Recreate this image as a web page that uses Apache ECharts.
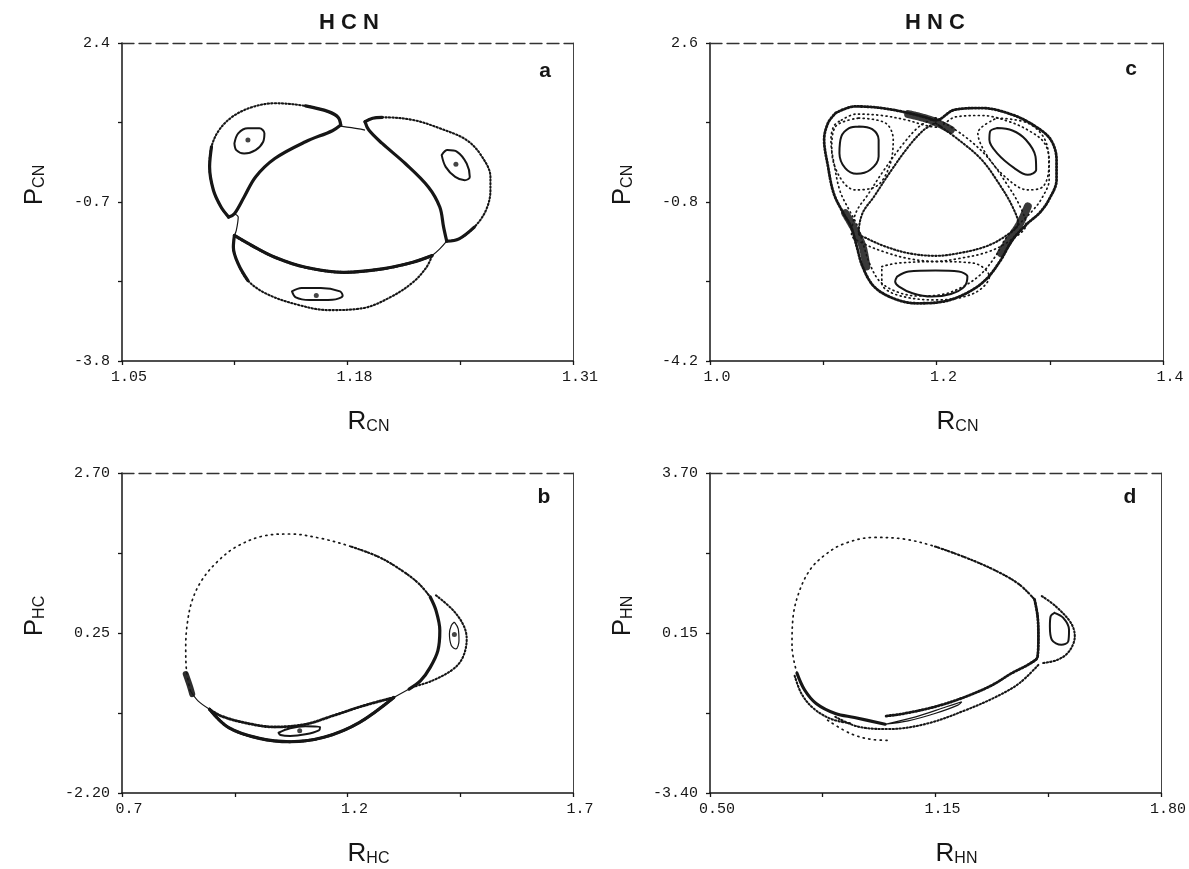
<!DOCTYPE html>
<html>
<head>
<meta charset="utf-8">
<script src="https://cdn.jsdelivr.net/npm/echarts@6/dist/echarts.min.js"></script>
<style>
  html, body { margin: 0; padding: 0; background: #fff; }
  #chart { width: 1189px; height: 869px; }
</style>
</head>
<body>
<div id="chart"></div>
<script>
// ---------- axis ticks and labels ----------
const aXLabels = ['1.05', '1.18', '1.31'];
const aXTicks  = [1.05, 1.115, 1.18, 1.245, 1.31];
const aYLabels = ['2.4', '-0.7', '-3.8'];
const aYTicks  = [2.4, 0.85, -0.7, -2.25, -3.8];

const bXLabels = ['0.7', '1.2', '1.7'];
const bXTicks  = [0.7, 0.95, 1.2, 1.45, 1.7];
const bYLabels = ['2.70', '0.25', '-2.20'];
const bYTicks  = [2.70, 1.475, 0.25, -0.975, -2.20];

const cXLabels = ['1.0', '1.2', '1.4'];
const cXTicks  = [1.0, 1.1, 1.2, 1.3, 1.4];
const cYLabels = ['2.6', '-0.8', '-4.2'];
const cYTicks  = [2.6, 0.9, -0.8, -2.5, -4.2];

const dXLabels = ['0.50', '1.15', '1.80'];
const dXTicks  = [0.50, 0.825, 1.15, 1.475, 1.80];
const dYLabels = ['3.70', '0.15', '-3.40'];
const dYTicks  = [3.70, 1.925, 0.15, -1.625, -3.40];

// ---------- (a) HCN: R_CN vs P_CN ----------
const aLeftLobeOuter = [[1.1115,-0.994],[1.1071,-0.798],[1.1027,-0.472],[1.1005,-0.015],[1.1016,0.377],[1.1060,0.703],[1.1137,0.964],[1.1248,1.147],[1.1381,1.225],[1.1558,1.173],[1.1690,1.062],[1.1746,0.951],[1.1761,0.801]];
const aLeftLobeInner = [[1.1761,0.801],[1.1713,0.690],[1.1558,0.475],[1.1381,0.148],[1.1270,-0.211],[1.1204,-0.602],[1.1148,-0.928],[1.1115,-0.994]];
const aLeftIsland = [[1.1148,0.442],[1.1170,0.638],[1.1226,0.736],[1.1292,0.736],[1.1321,0.638],[1.1314,0.475],[1.1270,0.312],[1.1204,0.246],[1.1159,0.312],[1.1148,0.442]];
const aRightLobeOuter = [[1.1901,0.866],[1.1945,0.932],[1.2000,0.951],[1.2177,0.899],[1.2332,0.736],[1.2487,0.507],[1.2576,0.181],[1.2624,-0.211],[1.2624,-0.472],[1.2598,-0.863],[1.2531,-1.189],[1.2443,-1.418],[1.2372,-1.464]];
const aRightLobeInner = [[1.2372,-1.464],[1.2354,-1.189],[1.2332,-0.798],[1.2266,-0.406],[1.2133,0.050],[1.2000,0.442],[1.1923,0.703],[1.1901,0.866]];
const aRightIsland = [[1.2343,0.214],[1.2376,0.312],[1.2432,0.279],[1.2487,0.050],[1.2505,-0.211],[1.2476,-0.276],[1.2421,-0.211],[1.2366,-0.015],[1.2343,0.214]];
const aBottomLobeOuter = [[1.1148,-1.353],[1.1142,-1.581],[1.1170,-1.907],[1.1226,-2.234],[1.1336,-2.495],[1.1513,-2.703],[1.1690,-2.808],[1.1890,-2.769],[1.2045,-2.560],[1.2177,-2.266],[1.2255,-1.973],[1.2288,-1.744]];
const aBottomLobeInner = [[1.2288,-1.744],[1.2177,-1.875],[1.2000,-2.005],[1.1779,-2.071],[1.1558,-1.973],[1.1381,-1.777],[1.1248,-1.548],[1.1148,-1.353]];
const aBottomIsland = [[1.1480,-2.443],[1.1535,-2.377],[1.1646,-2.377],[1.1757,-2.443],[1.1772,-2.527],[1.1713,-2.606],[1.1580,-2.612],[1.1502,-2.560],[1.1480,-2.443]];
const aCentralTop = [[1.1761,0.781],[1.1823,0.749],[1.1901,0.703]];
const aCentralLeft = [[1.1148,-0.928],[1.1170,-0.994],[1.1159,-1.255],[1.1148,-1.353]];
const aCentralRight = [[1.2372,-1.464],[1.2332,-1.614],[1.2288,-1.744]];
const aCentres = [[1.1226,0.507],[1.2425,0.037],[1.1620,-2.521]];

// ---------- (b) HCN: R_HC vs P_HC ----------
const bMainUpper = [[0.8515,-0.635],[0.8430,-0.327],[0.8413,0.032],[0.8447,0.391],[0.8557,0.750],[0.8770,1.058],[0.9111,1.340],[0.9536,1.571],[1.0132,1.735],[1.0728,1.766],[1.1409,1.699],[1.2089,1.571],[1.2685,1.417],[1.3196,1.212],[1.3579,1.007],[1.3834,0.802]];
const bMainRight = [[1.3834,0.802],[1.3962,0.596],[1.4047,0.288],[1.4004,-0.019],[1.3834,-0.276],[1.3621,-0.481],[1.3366,-0.609]];
const bLink = [[1.3366,-0.609],[1.3026,-0.738]];
const bLowerUpper = [[1.3026,-0.738],[1.2345,-0.866],[1.1664,-1.020],[1.1068,-1.148],[1.0387,-1.189],[0.9706,-1.122],[0.9196,-1.020],[0.8940,-0.917]];
const bLowerLower = [[0.8940,-0.917],[0.9366,-1.199],[1.0047,-1.364],[1.0728,-1.415],[1.1494,-1.343],[1.2260,-1.122],[1.3026,-0.738]];
const bLeftLink = [[0.8515,-0.635],[0.8685,-0.789],[0.8940,-0.917]];
const bLeftBlob = [[0.8413,-0.379],[0.8515,-0.584],[0.8557,-0.686]];
const bBottomIsland = [[1.0472,-1.277],[1.0728,-1.210],[1.1068,-1.179],[1.1391,-1.189],[1.1366,-1.241],[1.1068,-1.302],[1.0728,-1.328],[1.0515,-1.312],[1.0472,-1.277]];
const bRightIsland = [[1.4370,0.417],[1.4455,0.314],[1.4472,0.135],[1.4404,0.006],[1.4302,0.058],[1.4260,0.237],[1.4302,0.365],[1.4370,0.417]];
const bRightLobeOuter = [[1.3962,0.827],[1.4345,0.596],[1.4574,0.365],[1.4643,0.160],[1.4557,-0.122],[1.4345,-0.302],[1.3877,-0.481],[1.3409,-0.584]];
const bCentres = [[1.4370,0.227],[1.0940,-1.245]];

// ---------- (c) HNC: R_CN vs P_CN ----------
const cOuterEdge = [[1.1109,1.102],[1.1279,1.244],[1.1517,1.209],[1.1754,1.102],[1.1924,0.995],[1.1992,0.945],[1.2161,1.173],[1.2399,1.209],[1.2670,1.066],[1.2874,0.816],[1.3009,0.531],[1.3060,0.103],[1.3060,-0.326],[1.2992,-0.754],[1.2908,-1.039],[1.2806,-1.254],[1.2670,-1.610],[1.2568,-2.038],[1.2433,-2.466],[1.2263,-2.752],[1.2059,-2.930],[1.1822,-2.966],[1.1618,-2.859],[1.1449,-2.609],[1.1347,-2.181],[1.1296,-1.753],[1.1245,-1.325],[1.1177,-1.039],[1.1092,-0.611],[1.1042,-0.040],[1.1008,0.531],[1.1042,0.888],[1.1109,1.102]];
const cOuterEdge2 = [[1.1160,0.95],[1.1290,1.08],[1.1517,1.05],[1.1740,0.95],[1.1900,0.84],[1.2000,0.80],[1.2170,1.02],[1.2399,1.05],[1.2640,0.92],[1.2820,0.72],[1.2950,0.47],[1.2995,0.10],[1.2995,-0.32],[1.2930,-0.72],[1.2850,-0.98],[1.2760,-1.20],[1.2620,-1.55],[1.2515,-1.98],[1.2385,-2.36],[1.2225,-2.62],[1.2045,-2.78],[1.1830,-2.81],[1.1650,-2.72],[1.1500,-2.50],[1.1410,-2.12],[1.1355,-1.72],[1.1300,-1.30],[1.1235,-1.00],[1.1150,-0.58],[1.1100,-0.04],[1.1068,0.52],[1.1095,0.83],[1.1160,0.95]];
const cInnerEdge = [[1.1992,0.888],[1.2195,0.531],[1.2399,0.103],[1.2568,-0.468],[1.2670,-0.896],[1.2721,-1.254],[1.2602,-1.539],[1.2433,-1.753],[1.2195,-1.895],[1.1992,-1.952],[1.1754,-1.895],[1.1550,-1.753],[1.1381,-1.574],[1.1313,-1.467],[1.1347,-1.039],[1.1449,-0.682],[1.1584,-0.183],[1.1754,0.388],[1.1890,0.745],[1.1992,0.888]];
const cInnerEdge2 = [[1.1992,1.0],[1.2240,0.62],[1.2450,0.16],[1.2625,-0.43],[1.2735,-0.88],[1.2790,-1.28],[1.2640,-1.64],[1.2450,-1.87],[1.2195,-2.01],[1.1992,-2.07],[1.1754,-2.01],[1.1530,-1.86],[1.1340,-1.67],[1.1250,-1.50],[1.1290,-1.02],[1.1395,-0.64],[1.1530,-0.14],[1.1705,0.44],[1.1850,0.82],[1.1992,1.0]];
const cLeftRing = [[1.1313,0.995],[1.1550,0.888],[1.1618,0.531],[1.1584,-0.040],[1.1466,-0.468],[1.1279,-0.540],[1.1143,-0.254],[1.1075,0.317],[1.1109,0.816],[1.1313,0.995]];
const cRightRing = [[1.2534,0.995],[1.2806,0.888],[1.2958,0.531],[1.2992,-0.040],[1.2941,-0.468],[1.2806,-0.540],[1.2602,-0.254],[1.2433,0.245],[1.2365,0.674],[1.2534,0.995]];
const cBottomRing = [[1.1517,-2.181],[1.1652,-2.109],[1.1992,-2.074],[1.2331,-2.109],[1.2467,-2.395],[1.2331,-2.752],[1.1992,-2.894],[1.1652,-2.787],[1.1517,-2.537],[1.1517,-2.181]];
const cLeftIsland = [[1.1313,0.816],[1.1432,0.759],[1.1489,0.531],[1.1489,0.174],[1.1415,-0.111],[1.1296,-0.197],[1.1194,-0.076],[1.1143,0.245],[1.1160,0.602],[1.1228,0.780],[1.1313,0.816]];
const cRightIsland = [[1.2534,0.780],[1.2670,0.730],[1.2789,0.531],[1.2874,0.174],[1.2880,-0.111],[1.2806,-0.218],[1.2687,-0.076],[1.2534,0.245],[1.2467,0.531],[1.2473,0.709],[1.2534,0.780]];
const cBottomIsland = [[1.1652,-2.395],[1.1754,-2.288],[1.1992,-2.266],[1.2195,-2.288],[1.2273,-2.395],[1.2246,-2.609],[1.2127,-2.766],[1.1958,-2.823],[1.1788,-2.752],[1.1669,-2.609],[1.1635,-2.502],[1.1652,-2.395]];
const cClusterTop = [[1.1750,1.080],[1.1900,0.990],[1.2000,0.900],[1.2127,0.745]];
const cClusterLeft = [[1.1194,-1.039],[1.1279,-1.396],[1.1347,-1.753],[1.1381,-2.181]];
const cClusterRight = [[1.2806,-0.896],[1.2738,-1.254],[1.2653,-1.574],[1.2568,-1.895]];

// ---------- (d) HNC: R_HN vs P_HN ----------
const dMainUpper = [[0.7507,-0.743],[0.7364,-0.148],[0.7397,0.522],[0.7596,1.118],[0.7894,1.564],[0.8280,1.862],[0.8833,2.122],[0.9716,2.271],[1.0600,2.234],[1.1483,2.070],[1.2367,1.825],[1.3251,1.527],[1.3913,1.229],[1.4355,0.894]];
const dMainRight = [[1.4355,0.894],[1.4443,0.522],[1.4466,0.076],[1.4443,-0.371],[1.4245,-0.520],[1.3693,-0.743],[1.3140,-1.004],[1.2367,-1.264],[1.1483,-1.487],[1.0600,-1.636],[1.0048,-1.696]];
const dLowerLeft = [[0.7507,-0.743],[0.7728,-1.115],[0.8059,-1.413],[0.8612,-1.636],[0.9164,-1.725],[1.0048,-1.874]];
const dLowerLeft2 = [[0.7440,-0.800],[0.7640,-1.200],[0.7980,-1.520],[0.8500,-1.760],[0.9100,-1.860]];
const dIsland = [[1.0048,-1.874],[1.0931,-1.711],[1.1815,-1.487],[1.2256,-1.376],[1.2146,-1.450],[1.1483,-1.636],[1.0710,-1.800],[1.0048,-1.874]];
const dLowerBand = [[0.8612,-1.711],[0.9274,-1.929],[1.0158,-1.981],[1.1263,-1.859],[1.2367,-1.562],[1.3251,-1.264],[1.3913,-0.966],[1.4466,-0.557]];
const dOuterSparse = [[0.8391,-1.785],[0.9054,-2.083],[0.9716,-2.217],[1.0158,-2.231]];
const dRightIsland = [[1.4930,0.597],[1.5183,0.485],[1.5349,0.224],[1.5327,-0.036],[1.5128,-0.110],[1.4852,0.001],[1.4797,0.299],[1.4819,0.522],[1.4930,0.597]];
const dRightLobeOuter = [[1.4564,0.969],[1.4962,0.745],[1.5404,0.373],[1.5515,0.076],[1.5349,-0.259],[1.5018,-0.445],[1.4564,-0.520]];

// ---------- drawing styles ----------
const INK = '#161616';
const MONO = '"Liberation Mono", "DejaVu Sans Mono", monospace';
const SANS = '"Liberation Sans", Arial, sans-serif';
const STYLES = {
  thick:   { color: INK, width: 3.2, cap: 'round', join: 'round' },
  medium:  { color: INK, width: 2, cap: 'round', join: 'round' },
  thin:    { color: INK, width: 1.2 },
  dots:    { color: INK, width: 2.1, type: [1.3, 2.2], cap: 'round' },
  sparse:  { color: INK, width: 1.7, type: [1.2, 4.5], cap: 'round' },
  band:    { color: INK, width: 2.8, type: [1.4, 1.9], cap: 'round' },
  haze:    { color: INK, width: 1.7, type: [1, 3.6], cap: 'round' },
  blob:    { color: INK, width: 6, cap: 'round', join: 'round', opacity: 0.9 },
  cluster: { color: INK, width: 8, type: [2.5, 1.5], cap: 'round', join: 'round', opacity: 0.85 }
};

const panels = [
  { grid: { left: 122, top: 43, width: 451, height: 318 }, letter: 'a', letterPos: [545, 71],
    xLabels: aXLabels, xTicks: aXTicks, yLabels: aYLabels, yTicks: aYTicks,
    xSub: 'CN', ySub: 'CN', centres: aCentres,
    layers: [
      [aLeftLobeOuter, 'dots'], [aLeftLobeOuter.slice(0, 5), 'thick'], [aLeftLobeOuter.slice(9), 'thick'],
      [aLeftLobeInner, 'thick'], [aLeftIsland, 'medium'],
      [aRightLobeOuter, 'dots'], [aRightLobeOuter.slice(0, 3), 'thick'], [aRightLobeOuter.slice(10), 'thick'],
      [aRightLobeInner, 'thick'], [aRightIsland, 'medium'],
      [aBottomLobeOuter, 'dots'], [aBottomLobeOuter.slice(0, 4), 'thick'],
      [aBottomLobeInner, 'thick'], [aBottomLobeInner, 'band'], [aBottomIsland, 'medium'],
      [aCentralTop, 'thin'], [aCentralLeft, 'thin'], [aCentralRight, 'thin']
    ] },
  { grid: { left: 122, top: 473, width: 451, height: 320 }, letter: 'b', letterPos: [544, 497],
    xLabels: bXLabels, xTicks: bXTicks, yLabels: bYLabels, yTicks: bYTicks,
    xSub: 'HC', ySub: 'HC', centres: bCentres,
    layers: [
      [bMainUpper, 'sparse'], [bMainUpper.slice(11), 'dots'], [bMainRight, 'thick'], [bLink, 'thin'],
      [bLowerUpper, 'band'], [bLowerLower, 'thick'], [bLowerLower, 'band'], [bLeftLink, 'thin'],
      [bLeftBlob, 'blob'], [bBottomIsland, 'medium'], [bRightIsland, 'thin'], [bRightLobeOuter, 'dots']
    ] },
  { grid: { left: 710, top: 43, width: 453, height: 318 }, letter: 'c', letterPos: [1131, 69],
    xLabels: cXLabels, xTicks: cXTicks, yLabels: cYLabels, yTicks: cYTicks,
    xSub: 'CN', ySub: 'CN', centres: [],
    layers: [
      [cOuterEdge, 'band'], [cOuterEdge2, 'haze'], [cInnerEdge, 'dots'], [cInnerEdge2, 'haze'],
      [cLeftRing, 'haze'], [cRightRing, 'haze'], [cBottomRing, 'haze'],
      [cClusterTop, 'cluster'], [cClusterLeft, 'cluster'], [cClusterRight, 'cluster'],
      [cLeftIsland, 'medium'], [cRightIsland, 'medium'], [cBottomIsland, 'medium']
    ] },
  { grid: { left: 710, top: 473, width: 452, height: 320 }, letter: 'd', letterPos: [1130, 497],
    xLabels: dXLabels, xTicks: dXTicks, yLabels: dYLabels, yTicks: dYTicks,
    xSub: 'HN', ySub: 'HN', centres: [],
    layers: [
      [dMainUpper, 'sparse'], [dMainUpper.slice(9), 'dots'], [dMainRight, 'band'], [dMainRight.slice(0, 5), 'medium'],
      [dLowerLeft, 'thick'], [dLowerLeft2, 'dots'], [dIsland, 'thin'], [dLowerBand, 'dots'], [dOuterSparse, 'sparse'],
      [dRightIsland, 'medium'], [dRightLobeOuter, 'dots']
    ] }
];

const moleculeTitles = [
  { text: 'H C N', x: 349, y: 23 },
  { text: 'H N C', x: 935, y: 23 }
];

// pick the printed label whose value is nearest to the tick value
function labelFormatter(labels) {
  const vals = labels.map(Number);
  return v => {
    let best = 0;
    for (let i = 1; i < vals.length; i++) {
      if (Math.abs(vals[i] - v) < Math.abs(vals[best] - v)) best = i;
    }
    return labels[best];
  };
}

function nameRich() {
  return {
    r: { fontFamily: SANS, fontSize: 26, color: INK, lineHeight: 30, verticalAlign: 'bottom' },
    s: { fontFamily: SANS, fontSize: 16, color: INK, lineHeight: 10, verticalAlign: 'bottom' }
  };
}

const option = {
  animation: false,
  backgroundColor: '#ffffff',
  grid: [], xAxis: [], yAxis: [], series: [], graphic: []
};

panels.forEach((p, i) => {
  option.grid.push(Object.assign({ containLabel: false }, p.grid));
  const xMin = Number(p.xLabels[0]), xMax = Number(p.xLabels[p.xLabels.length - 1]);
  const yMax = Number(p.yLabels[0]), yMin = Number(p.yLabels[p.yLabels.length - 1]);

  // bottom axis with labels
  option.xAxis.push({
    gridIndex: i, type: 'value', position: 'bottom', min: xMin, max: xMax,
    axisLine: { show: true, onZero: false, lineStyle: { color: INK, width: 1.5 } },
    axisTick: { show: true, customValues: p.xTicks, length: 4, lineStyle: { color: INK, width: 1.3 } },
    axisLabel: { show: true, customValues: p.xLabels.map(Number), formatter: labelFormatter(p.xLabels),
                 fontFamily: MONO, fontSize: 15, color: INK, margin: 9, padding: [0, 0, 0, 14], hideOverlap: false },
    splitLine: { show: false },
    name: '{r|R}{s|' + p.xSub + '}', nameLocation: 'middle', nameGap: 44,
    nameTextStyle: { padding: [0, 0, 0, 42], rich: nameRich() }
  });
  // top frame line
  option.xAxis.push({
    gridIndex: i, type: 'value', position: 'top', min: xMin, max: xMax,
    axisLine: { show: true, onZero: false, lineStyle: { color: '#333', width: 1.3, type: [12, 5] } },
    axisTick: { show: false }, axisLabel: { show: false }, splitLine: { show: false }
  });
  // left axis with labels
  option.yAxis.push({
    gridIndex: i, type: 'value', position: 'left', min: yMin, max: yMax,
    axisLine: { show: true, onZero: false, lineStyle: { color: INK, width: 1.5 } },
    axisTick: { show: true, customValues: p.yTicks, length: 4, lineStyle: { color: INK, width: 1.3 } },
    axisLabel: { show: true, customValues: p.yLabels.map(Number), formatter: labelFormatter(p.yLabels),
                 fontFamily: MONO, fontSize: 15, color: INK, margin: 12, hideOverlap: false },
    splitLine: { show: false },
    name: '{r|P}{s|' + p.ySub + '}', nameLocation: 'middle', nameRotate: 90, nameGap: 74,
    nameTextStyle: { padding: [0, 0, 0, 34], rich: nameRich() }
  });
  // right frame line
  option.yAxis.push({
    gridIndex: i, type: 'value', position: 'right', min: yMin, max: yMax,
    axisLine: { show: true, onZero: false, lineStyle: { color: '#444', width: 1 } },
    axisTick: { show: false }, axisLabel: { show: false }, splitLine: { show: false }
  });

  const xi = 2 * i;
  p.layers.forEach(([data, styleKey]) => {
    option.series.push({
      type: 'line', xAxisIndex: xi, yAxisIndex: xi, data: data,
      symbol: 'none', smooth: 0.35, silent: true,
      lineStyle: STYLES[styleKey]
    });
  });
  if (p.centres.length) {
    option.series.push({
      type: 'scatter', xAxisIndex: xi, yAxisIndex: xi, data: p.centres,
      symbolSize: 5, itemStyle: { color: INK }, silent: true
    });
  }

  option.graphic.push({
    type: 'text', x: p.letterPos[0], y: p.letterPos[1], silent: true,
    style: { text: p.letter, font: 'bold 21px ' + SANS, fill: INK, align: 'center', verticalAlign: 'middle' }
  });
});

moleculeTitles.forEach(t => {
  option.graphic.push({
    type: 'text', x: t.x, y: t.y, silent: true,
    style: { text: t.text, font: 'bold 22px ' + SANS, fill: INK, align: 'center', verticalAlign: 'middle' }
  });
});

const chart = echarts.init(document.getElementById('chart'), null, { renderer: 'canvas' });
chart.setOption(option);
</script>
</body>
</html>
